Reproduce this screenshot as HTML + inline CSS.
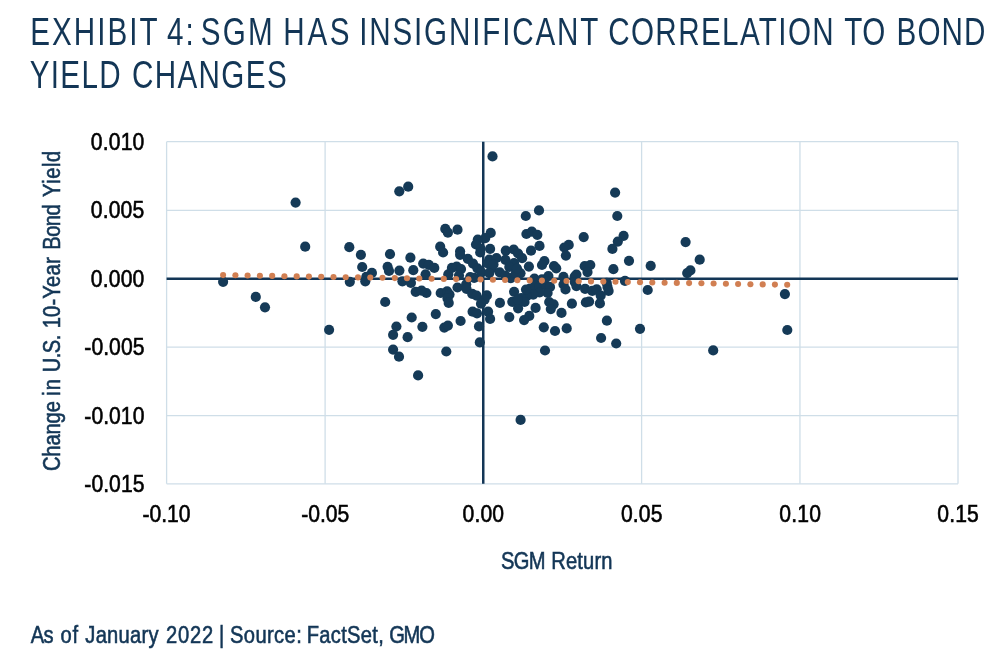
<!DOCTYPE html>
<html><head><meta charset="utf-8"><title>Exhibit 4</title>
<style>
html,body{margin:0;padding:0;background:#fff;}
svg{display:block;font-family:"Liberation Sans",sans-serif;}
</style></head><body>
<svg width="1004" height="656" viewBox="0 0 1004 656">
<rect width="1004" height="656" fill="#fff"/>
<g stroke="#CFDEE8" stroke-width="1.3" fill="none"><line x1="166.60" y1="141.7" x2="166.60" y2="483.8"/><line x1="166.6" y1="141.70" x2="958.0" y2="141.70"/><line x1="325.10" y1="141.7" x2="325.10" y2="483.8"/><line x1="166.6" y1="210.30" x2="958.0" y2="210.30"/><line x1="483.25" y1="141.7" x2="483.25" y2="483.8"/><line x1="166.6" y1="278.75" x2="958.0" y2="278.75"/><line x1="641.60" y1="141.7" x2="641.60" y2="483.8"/><line x1="166.6" y1="347.15" x2="958.0" y2="347.15"/><line x1="799.95" y1="141.7" x2="799.95" y2="483.8"/><line x1="166.6" y1="415.70" x2="958.0" y2="415.70"/><line x1="958.00" y1="141.7" x2="958.00" y2="483.8"/><line x1="166.6" y1="483.80" x2="958.0" y2="483.80"/></g>
<g stroke="#133656" stroke-width="2.5"><line x1="483.25" y1="141.7" x2="483.25" y2="483.8"/><line x1="166.6" y1="278.75" x2="958.0" y2="278.75"/></g>
<text transform="translate(30.36 44.8) scale(0.76 1)" font-size="39" fill="#133656" letter-spacing="2.616">EXHIBIT</text>
<text transform="translate(167.12 44.8) scale(0.76 1)" font-size="39" fill="#133656" letter-spacing="2.59">4:</text>
<text transform="translate(200.64 44.8) scale(0.76 1)" font-size="39" fill="#133656" letter-spacing="2.939">SGM</text>
<text transform="translate(283.36 44.8) scale(0.76 1)" font-size="39" fill="#133656" letter-spacing="3.457">HAS</text>
<text transform="translate(359.16 44.8) scale(0.76 1)" font-size="39" fill="#133656" letter-spacing="2.409">INSIGNIFICANT</text>
<text transform="translate(608.17 44.8) scale(0.76 1)" font-size="39" fill="#133656" letter-spacing="1.807">CORRELATION</text>
<text transform="translate(844.23 44.8) scale(0.76 1)" font-size="39" fill="#133656" letter-spacing="0.521">TO</text>
<text transform="translate(896.56 44.8) scale(0.76 1)" font-size="39" fill="#133656" letter-spacing="1.47">BOND</text>
<text transform="translate(29.82 87.8) scale(0.76 1)" font-size="39" fill="#133656" letter-spacing="1.677">YIELD</text>
<text transform="translate(131.97 87.8) scale(0.76 1)" font-size="39" fill="#133656" letter-spacing="1.788">CHANGES</text>
<text transform="translate(90.71 149.6) scale(0.88 1)" font-size="24" fill="#000" stroke="#000" stroke-width="0.6" letter-spacing="0.227">0.010</text>
<text transform="translate(90.71 218.2) scale(0.88 1)" font-size="24" fill="#000" stroke="#000" stroke-width="0.6" letter-spacing="0.2">0.005</text>
<text transform="translate(90.71 286.6) scale(0.88 1)" font-size="24" fill="#000" stroke="#000" stroke-width="0.6" letter-spacing="0.227">0.000</text>
<text transform="translate(84.37 355.0) scale(0.88 1)" font-size="24" fill="#000" stroke="#000" stroke-width="0.6" letter-spacing="0.04">-0.005</text>
<text transform="translate(84.37 423.6) scale(0.88 1)" font-size="24" fill="#000" stroke="#000" stroke-width="0.6" letter-spacing="0.035">-0.010</text>
<text transform="translate(84.37 491.7) scale(0.88 1)" font-size="24" fill="#000" stroke="#000" stroke-width="0.6" letter-spacing="0.04">-0.015</text>
<text transform="translate(142.57 522) scale(0.88 1)" font-size="24" fill="#000" stroke="#000" stroke-width="0.6" letter-spacing="-0.046">-0.10</text>
<text transform="translate(301.17 522) scale(0.88 1)" font-size="24" fill="#000" stroke="#000" stroke-width="0.6" letter-spacing="-0.028">-0.05</text>
<text transform="translate(462.61 522) scale(0.88 1)" font-size="24" fill="#000" stroke="#000" stroke-width="0.6" letter-spacing="0.134">0.00</text>
<text transform="translate(620.91 522) scale(0.88 1)" font-size="24" fill="#000" stroke="#000" stroke-width="0.6" letter-spacing="0.164">0.05</text>
<text transform="translate(779.31 522) scale(0.88 1)" font-size="24" fill="#000" stroke="#000" stroke-width="0.6" letter-spacing="0.202">0.10</text>
<text transform="translate(937.31 522) scale(0.88 1)" font-size="24" fill="#000" stroke="#000" stroke-width="0.6" letter-spacing="0.164">0.15</text>
<text transform="translate(501.0 568.7) scale(0.84 1)" font-size="24" fill="#133656" stroke="#133656" stroke-width="0.6" letter-spacing="-0.86">SGM</text>
<text transform="translate(551.18 568.7) scale(0.84 1)" font-size="24" fill="#133656" stroke="#133656" stroke-width="0.6" letter-spacing="0.205">Return</text>
<text transform="rotate(-90) translate(-471.08 59.7) scale(0.84 1)" font-size="24" fill="#133656" stroke="#133656" stroke-width="0.6" letter-spacing="-0.149">Change</text>
<text transform="rotate(-90) translate(-395.85 59.7) scale(0.84 1)" font-size="24" fill="#133656" stroke="#133656" stroke-width="0.6" letter-spacing="1.331">in</text>
<text transform="rotate(-90) translate(-372.35 59.7) scale(0.84 1)" font-size="24" fill="#133656" stroke="#133656" stroke-width="0.6" letter-spacing="-0.57">U.S.</text>
<text transform="rotate(-90) translate(-328.34 59.7) scale(0.84 1)" font-size="24" fill="#133656" stroke="#133656" stroke-width="0.6" letter-spacing="0.221">10-Year</text>
<text transform="rotate(-90) translate(-249.72 59.7) scale(0.84 1)" font-size="24" fill="#133656" stroke="#133656" stroke-width="0.6" letter-spacing="-0.692">Bond</text>
<text transform="rotate(-90) translate(-196.99 59.7) scale(0.84 1)" font-size="24" fill="#133656" stroke="#133656" stroke-width="0.6" letter-spacing="0.638">Yield</text>
<text transform="translate(30.8 643.2) scale(0.84 1)" font-size="24" fill="#133656" stroke="#133656" stroke-width="0.6" letter-spacing="-0.889">As</text>
<text transform="translate(60.38 643.2) scale(0.84 1)" font-size="24" fill="#133656" stroke="#133656" stroke-width="0.6" letter-spacing="1.13">of</text>
<text transform="translate(85.29 643.2) scale(0.84 1)" font-size="24" fill="#133656" stroke="#133656" stroke-width="0.6" letter-spacing="0.31">January</text>
<text transform="translate(165.94 643.2) scale(0.84 1)" font-size="24" fill="#133656" stroke="#133656" stroke-width="0.6" letter-spacing="1.009">2022</text>
<text transform="translate(219.06 643.2) scale(0.84 1)" font-size="24" fill="#133656" stroke="#133656" stroke-width="0.6">|</text>
<text transform="translate(229.9 643.2) scale(0.84 1)" font-size="24" fill="#133656" stroke="#133656" stroke-width="0.6" letter-spacing="0.492">Source:</text>
<text transform="translate(306.78 643.2) scale(0.84 1)" font-size="24" fill="#133656" stroke="#133656" stroke-width="0.6" letter-spacing="0.329">FactSet,</text>
<text transform="translate(389.13 643.2) scale(0.84 1)" font-size="24" fill="#133656" stroke="#133656" stroke-width="0.6" letter-spacing="-1.447">GMO</text>
<g fill="#153A57"><circle cx="295.6" cy="202.6" r="5.1"/><circle cx="223.1" cy="281.8" r="5.1"/><circle cx="255.8" cy="296.9" r="5.1"/><circle cx="265.0" cy="307.3" r="5.1"/><circle cx="305.2" cy="246.7" r="5.1"/><circle cx="349.3" cy="247.2" r="5.1"/><circle cx="349.8" cy="281.8" r="5.1"/><circle cx="329.1" cy="329.8" r="5.1"/><circle cx="399.3" cy="191.3" r="5.1"/><circle cx="408.2" cy="186.7" r="5.1"/><circle cx="492.5" cy="156.4" r="5.1"/><circle cx="360.9" cy="254.8" r="5.1"/><circle cx="390.0" cy="254.1" r="5.1"/><circle cx="410.4" cy="257.7" r="5.1"/><circle cx="362.2" cy="267.0" r="5.1"/><circle cx="387.6" cy="266.8" r="5.1"/><circle cx="371.9" cy="272.9" r="5.1"/><circle cx="399.4" cy="270.6" r="5.1"/><circle cx="413.3" cy="270.2" r="5.1"/><circle cx="366.3" cy="276.9" r="5.1"/><circle cx="365.3" cy="281.3" r="5.1"/><circle cx="389.0" cy="270.9" r="5.1"/><circle cx="402.4" cy="281.3" r="5.1"/><circle cx="410.9" cy="282.9" r="5.1"/><circle cx="415.7" cy="291.8" r="5.1"/><circle cx="385.2" cy="302.0" r="5.1"/><circle cx="411.7" cy="317.5" r="5.1"/><circle cx="396.4" cy="326.5" r="5.1"/><circle cx="393.1" cy="334.8" r="5.1"/><circle cx="407.6" cy="337.2" r="5.1"/><circle cx="393.1" cy="349.6" r="5.1"/><circle cx="399.0" cy="356.7" r="5.1"/><circle cx="418.1" cy="375.4" r="5.1"/><circle cx="446.3" cy="351.5" r="5.1"/><circle cx="479.8" cy="342.4" r="5.1"/><circle cx="445.3" cy="228.9" r="5.1"/><circle cx="447.9" cy="232.7" r="5.1"/><circle cx="457.5" cy="229.7" r="5.1"/><circle cx="440.2" cy="246.7" r="5.1"/><circle cx="443.1" cy="252.5" r="5.1"/><circle cx="460.1" cy="251.3" r="5.1"/><circle cx="460.1" cy="254.8" r="5.1"/><circle cx="467.8" cy="258.8" r="5.1"/><circle cx="473" cy="263.6" r="5.1"/><circle cx="490.7" cy="232.9" r="5.1"/><circle cx="485.3" cy="238.1" r="5.1"/><circle cx="477.8" cy="239.7" r="5.1"/><circle cx="476.0" cy="244.5" r="5.1"/><circle cx="480.6" cy="248.5" r="5.1"/><circle cx="490.1" cy="248.9" r="5.1"/><circle cx="480.2" cy="252.5" r="5.1"/><circle cx="489.3" cy="259.6" r="5.1"/><circle cx="496.5" cy="258" r="5.1"/><circle cx="423.2" cy="263.6" r="5.1"/><circle cx="428.8" cy="264.8" r="5.1"/><circle cx="434.3" cy="267.9" r="5.1"/><circle cx="425.6" cy="274.3" r="5.1"/><circle cx="448.3" cy="274.3" r="5.1"/><circle cx="451.9" cy="267.9" r="5.1"/><circle cx="456.7" cy="266.7" r="5.1"/><circle cx="461" cy="269.1" r="5.1"/><circle cx="459" cy="275.5" r="5.1"/><circle cx="470.2" cy="277.1" r="5.1"/><circle cx="474.2" cy="277.9" r="5.1"/><circle cx="477.4" cy="268.3" r="5.1"/><circle cx="481.4" cy="272.3" r="5.1"/><circle cx="487.7" cy="263.5" r="5.1"/><circle cx="491.7" cy="268.3" r="5.1"/><circle cx="489.3" cy="273.1" r="5.1"/><circle cx="499.7" cy="272.3" r="5.1"/><circle cx="426.4" cy="293" r="5.1"/><circle cx="421.6" cy="290.6" r="5.1"/><circle cx="440.7" cy="293" r="5.1"/><circle cx="447.1" cy="291.4" r="5.1"/><circle cx="449.5" cy="294.6" r="5.1"/><circle cx="447.5" cy="298.4" r="5.1"/><circle cx="457.5" cy="287.5" r="5.1"/><circle cx="466.2" cy="284.3" r="5.1"/><circle cx="466.5" cy="288.8" r="5.1"/><circle cx="472.2" cy="293.8" r="5.1"/><circle cx="476.6" cy="295.6" r="5.1"/><circle cx="486.9" cy="295.4" r="5.1"/><circle cx="448.7" cy="302.9" r="5.1"/><circle cx="484.5" cy="299.7" r="5.1"/><circle cx="481" cy="303.7" r="5.1"/><circle cx="499.9" cy="302.9" r="5.1"/><circle cx="435.8" cy="314.1" r="5.1"/><circle cx="472.6" cy="311.7" r="5.1"/><circle cx="477" cy="313.3" r="5.1"/><circle cx="488.1" cy="311.7" r="5.1"/><circle cx="490.1" cy="318.9" r="5.1"/><circle cx="460.6" cy="321" r="5.1"/><circle cx="422.4" cy="326.8" r="5.1"/><circle cx="444.3" cy="327.6" r="5.1"/><circle cx="447.9" cy="325.6" r="5.1"/><circle cx="479" cy="326.4" r="5.1"/><circle cx="615.1" cy="192.6" r="5.1"/><circle cx="539" cy="210.4" r="5.1"/><circle cx="525.8" cy="216" r="5.1"/><circle cx="617.3" cy="216" r="5.1"/><circle cx="526.4" cy="234" r="5.1"/><circle cx="531.8" cy="231.6" r="5.1"/><circle cx="537.3" cy="234.8" r="5.1"/><circle cx="583.7" cy="237.1" r="5.1"/><circle cx="623.6" cy="235.8" r="5.1"/><circle cx="617.8" cy="241.6" r="5.1"/><circle cx="539.5" cy="245.9" r="5.1"/><circle cx="531" cy="250.7" r="5.1"/><circle cx="568.7" cy="244.9" r="5.1"/><circle cx="564.3" cy="247.5" r="5.1"/><circle cx="565.9" cy="255.6" r="5.1"/><circle cx="505.8" cy="250.7" r="5.1"/><circle cx="513.7" cy="249.5" r="5.1"/><circle cx="518.1" cy="253.5" r="5.1"/><circle cx="522.1" cy="258.2" r="5.1"/><circle cx="505.4" cy="259.8" r="5.1"/><circle cx="514.1" cy="263" r="5.1"/><circle cx="509.3" cy="267" r="5.1"/><circle cx="528.9" cy="266.6" r="5.1"/><circle cx="544.4" cy="261" r="5.1"/><circle cx="542" cy="265" r="5.1"/><circle cx="554" cy="266" r="5.1"/><circle cx="556.2" cy="268.3" r="5.1"/><circle cx="520.5" cy="273.3" r="5.1"/><circle cx="510.9" cy="278.1" r="5.1"/><circle cx="515.7" cy="273.3" r="5.1"/><circle cx="534.4" cy="278.5" r="5.1"/><circle cx="542" cy="279.3" r="5.1"/><circle cx="548.4" cy="276.1" r="5.1"/><circle cx="563.5" cy="276.9" r="5.1"/><circle cx="574.7" cy="276.5" r="5.1"/><circle cx="530" cy="288.5" r="5.1"/><circle cx="534.8" cy="286" r="5.1"/><circle cx="539.6" cy="286.9" r="5.1"/><circle cx="546" cy="285.3" r="5.1"/><circle cx="550" cy="286.9" r="5.1"/><circle cx="563.5" cy="284.5" r="5.1"/><circle cx="565.5" cy="289.4" r="5.1"/><circle cx="547.6" cy="293" r="5.1"/><circle cx="539.6" cy="292.5" r="5.1"/><circle cx="533.2" cy="294.6" r="5.1"/><circle cx="526.9" cy="296" r="5.1"/><circle cx="521.3" cy="298" r="5.1"/><circle cx="514.1" cy="291.8" r="5.1"/><circle cx="512.3" cy="301.8" r="5.1"/><circle cx="518.1" cy="308.3" r="5.1"/><circle cx="524.5" cy="302" r="5.1"/><circle cx="535.6" cy="307.9" r="5.1"/><circle cx="529.3" cy="315.9" r="5.1"/><circle cx="524.1" cy="320.1" r="5.1"/><circle cx="509.3" cy="317.1" r="5.1"/><circle cx="549.2" cy="302" r="5.1"/><circle cx="553.6" cy="304.3" r="5.1"/><circle cx="550.8" cy="309.1" r="5.1"/><circle cx="561.5" cy="312.9" r="5.1"/><circle cx="571.9" cy="303.7" r="5.1"/><circle cx="543.8" cy="327.3" r="5.1"/><circle cx="555" cy="331" r="5.1"/><circle cx="566.7" cy="328.4" r="5.1"/><circle cx="545" cy="350.5" r="5.1"/><circle cx="520.6" cy="419.9" r="5.1"/><circle cx="601.1" cy="338" r="5.1"/><circle cx="616.2" cy="343.5" r="5.1"/><circle cx="612.4" cy="248.9" r="5.1"/><circle cx="629" cy="260.8" r="5.1"/><circle cx="613.4" cy="269.2" r="5.1"/><circle cx="584.7" cy="266.2" r="5.1"/><circle cx="590.3" cy="265" r="5.1"/><circle cx="650.7" cy="265.8" r="5.1"/><circle cx="587.5" cy="272.1" r="5.1"/><circle cx="576.4" cy="274.5" r="5.1"/><circle cx="625" cy="280.9" r="5.1"/><circle cx="647.7" cy="290" r="5.1"/><circle cx="574.8" cy="282.1" r="5.1"/><circle cx="576.4" cy="286.1" r="5.1"/><circle cx="585.1" cy="288.9" r="5.1"/><circle cx="592.3" cy="290.9" r="5.1"/><circle cx="596.7" cy="289.3" r="5.1"/><circle cx="606.7" cy="282.9" r="5.1"/><circle cx="607.5" cy="286.9" r="5.1"/><circle cx="608.6" cy="290.9" r="5.1"/><circle cx="600.7" cy="295.6" r="5.1"/><circle cx="585.9" cy="302.4" r="5.1"/><circle cx="589.1" cy="301.6" r="5.1"/><circle cx="599.9" cy="303.4" r="5.1"/><circle cx="606.9" cy="320.7" r="5.1"/><circle cx="640" cy="328.8" r="5.1"/><circle cx="685.6" cy="242.1" r="5.1"/><circle cx="699.7" cy="259.7" r="5.1"/><circle cx="690.4" cy="270.4" r="5.1"/><circle cx="687.2" cy="273.1" r="5.1"/><circle cx="784.9" cy="294.1" r="5.1"/><circle cx="787.3" cy="330" r="5.1"/><circle cx="713.2" cy="350.4" r="5.1"/><circle cx="505.5" cy="275.5" r="5.1"/><circle cx="517" cy="268.5" r="5.1"/><circle cx="493.5" cy="264.5" r="5.1"/><circle cx="517.9" cy="299.7" r="5.1"/><circle cx="526" cy="289.5" r="5.1"/></g>
<g fill="#D17F52"><circle cx="223.1" cy="275.1" r="3.05"/><circle cx="235.4" cy="275.3" r="3.05"/><circle cx="247.6" cy="275.5" r="3.05"/><circle cx="259.9" cy="275.7" r="3.05"/><circle cx="272.2" cy="275.9" r="3.05"/><circle cx="284.4" cy="276.2" r="3.05"/><circle cx="296.7" cy="276.4" r="3.05"/><circle cx="308.9" cy="276.6" r="3.05"/><circle cx="321.2" cy="276.8" r="3.05"/><circle cx="333.5" cy="277.0" r="3.05"/><circle cx="345.7" cy="277.2" r="3.05"/><circle cx="358.0" cy="277.4" r="3.05"/><circle cx="370.3" cy="277.6" r="3.05"/><circle cx="382.5" cy="277.8" r="3.05"/><circle cx="394.8" cy="278.1" r="3.05"/><circle cx="407.0" cy="278.3" r="3.05"/><circle cx="419.3" cy="278.5" r="3.05"/><circle cx="431.6" cy="278.7" r="3.05"/><circle cx="443.8" cy="278.9" r="3.05"/><circle cx="456.1" cy="279.1" r="3.05"/><circle cx="468.4" cy="279.3" r="3.05"/><circle cx="480.6" cy="279.5" r="3.05"/><circle cx="492.9" cy="279.7" r="3.05"/><circle cx="505.1" cy="280.0" r="3.05"/><circle cx="517.4" cy="280.2" r="3.05"/><circle cx="529.7" cy="280.4" r="3.05"/><circle cx="541.9" cy="280.6" r="3.05"/><circle cx="554.2" cy="280.8" r="3.05"/><circle cx="566.5" cy="281.0" r="3.05"/><circle cx="578.7" cy="281.2" r="3.05"/><circle cx="591.0" cy="281.4" r="3.05"/><circle cx="603.3" cy="281.6" r="3.05"/><circle cx="615.5" cy="281.8" r="3.05"/><circle cx="627.8" cy="282.1" r="3.05"/><circle cx="640.0" cy="282.3" r="3.05"/><circle cx="652.3" cy="282.5" r="3.05"/><circle cx="664.6" cy="282.7" r="3.05"/><circle cx="676.8" cy="282.9" r="3.05"/><circle cx="689.1" cy="283.1" r="3.05"/><circle cx="701.4" cy="283.3" r="3.05"/><circle cx="713.6" cy="283.5" r="3.05"/><circle cx="725.9" cy="283.7" r="3.05"/><circle cx="738.1" cy="284.0" r="3.05"/><circle cx="750.4" cy="284.2" r="3.05"/><circle cx="762.7" cy="284.4" r="3.05"/><circle cx="774.9" cy="284.6" r="3.05"/><circle cx="787.2" cy="284.8" r="3.05"/></g>
</svg>
</body></html>
